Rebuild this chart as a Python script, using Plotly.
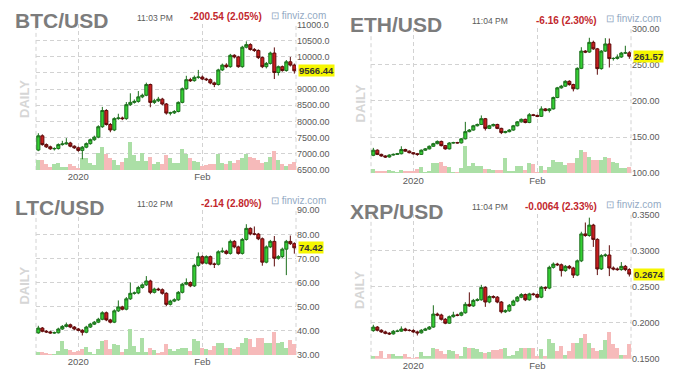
import plotly.graph_objects as go
import pandas as pd

W, H = 673, 385

# ---------------- data ----------------
dates = pd.date_range("2019-12-22", periods=65, freq="D")
x_tick_values = ["2020-01-01", "2020-02-01"]
x_tick_labels = ["2020", "Feb"]
x_window = ["2019-12-21 10:00", "2020-02-24 10:00"]

btc_open = [7113, 7555, 7283, 7213, 7153, 7160, 7283, 7303, 7333, 7233, 7183, 7103, 7203, 7313, 7434, 7514, 7836, 8338, 7906, 7735, 8087, 8107, 8087, 8519, 8589, 8619, 8760, 8810, 9142, 8589, 8640, 8690, 8539, 8258, 8265, 8308, 8589, 9011, 9292, 9262, 9363, 9373, 9312, 9292, 9192, 9142, 9594, 9744, 9694, 10046, 9996, 9694, 10297, 10377, 10227, 10196, 9975, 9694, 9795, 10116, 9513, 9694, 9574, 9845, 9744]
btc_high = [7635, 7600, 7320, 7250, 7200, 7320, 7400, 7484, 7370, 7260, 7220, 7240, 7350, 7470, 7560, 7880, 8450, 8380, 7950, 8130, 8238, 8150, 8600, 8870, 8680, 8940, 8860, 9200, 9170, 8700, 8760, 8730, 8570, 8300, 8350, 8620, 9050, 9413, 9350, 9420, 9594, 9420, 9350, 9330, 9230, 9630, 9790, 9800, 10090, 10080, 10030, 10340, 10478, 10420, 10270, 10230, 10010, 9840, 10160, 10290, 9730, 9730, 9900, 9996, 9790]
btc_low = [7080, 7250, 7180, 7120, 7100, 7130, 7250, 7280, 7200, 7150, 7060, 6831, 7170, 7280, 7400, 7480, 7800, 7870, 7665, 7700, 8050, 8040, 8050, 8480, 8550, 8580, 8720, 8780, 8438, 8540, 8600, 8500, 8210, 8187, 8230, 8280, 8560, 8980, 9220, 9230, 9320, 9280, 9250, 9150, 9061, 9110, 9560, 9650, 9660, 9950, 9660, 9660, 10260, 10190, 10150, 9930, 9650, 9640, 9760, 9312, 9420, 9540, 9540, 9700, 9480]
btc_close = [7555, 7283, 7213, 7153, 7160, 7283, 7303, 7333, 7233, 7183, 7103, 7203, 7313, 7434, 7514, 7836, 8338, 7906, 7735, 8087, 8107, 8087, 8519, 8589, 8619, 8760, 8810, 9142, 8589, 8640, 8690, 8539, 8258, 8265, 8308, 8589, 9011, 9292, 9262, 9363, 9373, 9312, 9292, 9192, 9142, 9594, 9744, 9694, 10046, 9996, 9694, 10297, 10377, 10227, 10196, 9975, 9694, 9795, 10116, 9513, 9694, 9574, 9845, 9744, 9566.44]
btc_volume = [30, 30, 18, 10, 18, 20, 8, 8, 18, 13, 5, 38, 38, 20, 15, 53, 71, 50, 38, 30, 16, 23, 36, 86, 46, 28, 53, 28, 40, 18, 25, 18, 46, 38, 20, 20, 65, 50, 38, 28, 23, 11, 15, 18, 18, 48, 20, 18, 26, 20, 30, 36, 48, 40, 38, 30, 20, 23, 40, 58, 30, 18, 13, 18, 25]

eth_open = [124.7, 131.8, 126.0, 123.8, 122.4, 125.1, 126.0, 126.9, 132.7, 130.5, 128.3, 126.9, 126.0, 131.8, 133.6, 137.2, 140.8, 143.9, 138.1, 133.6, 141.7, 142.2, 141.9, 147.5, 157.4, 159.6, 165.5, 167.3, 175.3, 161.9, 165.5, 167.3, 161.9, 156.1, 157.4, 159.6, 165.5, 170.9, 174.4, 170.0, 180.7, 179.8, 178.5, 188.8, 186.5, 188.8, 204.5, 217.9, 220.2, 226.9, 222.4, 216.6, 244.8, 268.6, 267.3, 280.7, 271.7, 244.4, 268.6, 278.5, 258.3, 258.5, 260.5, 265.9, 266.2]
eth_high = [135.0, 133.0, 127.0, 124.8, 126.2, 127.2, 128.0, 137.2, 133.8, 131.5, 129.3, 128.0, 132.8, 134.8, 138.3, 142.0, 145.3, 145.0, 139.0, 142.9, 143.4, 143.3, 148.6, 170.9, 161.0, 166.8, 168.6, 179.8, 176.3, 166.8, 168.5, 168.3, 162.8, 158.6, 160.9, 166.7, 172.1, 175.6, 175.3, 183.0, 181.9, 180.8, 192.4, 189.9, 190.0, 205.8, 219.2, 222.0, 228.4, 228.3, 223.6, 246.2, 274.0, 270.0, 287.0, 283.0, 273.0, 270.0, 286.5, 286.0, 260.0, 264.0, 267.5, 276.0, 268.5]
eth_low = [123.5, 125.0, 122.8, 121.2, 121.5, 124.3, 125.2, 126.0, 129.6, 127.4, 125.9, 124.0, 125.2, 130.9, 132.8, 136.4, 139.9, 137.0, 132.5, 132.8, 140.8, 140.9, 141.0, 146.6, 156.4, 158.8, 164.5, 166.5, 159.0, 160.9, 164.4, 160.8, 154.0, 155.0, 156.4, 158.6, 164.6, 169.9, 168.9, 169.1, 178.7, 177.4, 177.6, 185.4, 183.8, 187.9, 203.6, 216.7, 219.3, 220.9, 213.0, 215.6, 243.7, 265.8, 266.2, 270.3, 236.0, 243.0, 267.4, 246.0, 255.5, 257.0, 259.3, 264.6, 258.0]
eth_close = [131.8, 126.0, 123.8, 122.4, 125.1, 126.0, 126.9, 132.7, 130.5, 128.3, 126.9, 126.0, 131.8, 133.6, 137.2, 140.8, 143.9, 138.1, 133.6, 141.7, 142.2, 141.9, 147.5, 157.4, 159.6, 165.5, 167.3, 175.3, 161.9, 165.5, 167.3, 161.9, 156.1, 157.4, 159.6, 165.5, 170.9, 174.4, 170.0, 180.7, 179.8, 178.5, 188.8, 186.5, 188.8, 204.5, 217.9, 220.2, 226.9, 222.4, 216.6, 244.8, 268.6, 267.3, 280.7, 271.7, 244.4, 268.6, 278.5, 258.3, 258.5, 260.5, 265.9, 266.2, 261.57]
eth_volume = [13, 8, 6, 8, 10, 6, 3, 11, 6, 8, 6, 13, 18, 5, 8, 30, 30, 34, 23, 18, 5, 5, 16, 83, 23, 31, 23, 21, 13, 13, 11, 10, 10, 48, 6, 6, 21, 23, 11, 31, 28, 5, 21, 10, 20, 40, 35, 36, 25, 30, 30, 48, 70, 66, 50, 41, 41, 40, 50, 46, 33, 31, 15, 15, 20]

ltc_open = [39.15, 41.16, 39.82, 39.55, 39.15, 39.20, 40.76, 41.84, 42.51, 41.57, 40.76, 40.22, 39.41, 41.57, 42.78, 43.59, 44.80, 47.49, 44.53, 43.59, 48.29, 49.91, 48.97, 53.27, 55.56, 55.70, 57.98, 59.06, 60.67, 55.96, 57.31, 57.04, 55.56, 50.98, 52.33, 52.87, 55.96, 59.33, 60.00, 58.65, 67.13, 70.76, 68.07, 70.76, 67.67, 67.60, 72.78, 73.05, 72.11, 77.08, 74.80, 72.11, 77.89, 82.47, 80.18, 80.10, 78.16, 68.47, 74.80, 77.08, 70.09, 70.76, 73.86, 77.08, 76.14]
ltc_high = [42.1, 41.6, 40.3, 40.0, 39.7, 41.3, 42.4, 43.45, 43.0, 42.0, 41.2, 40.7, 42.1, 43.3, 44.1, 45.4, 48.1, 48.0, 45.0, 48.9, 52.6, 50.4, 54.0, 60.0, 56.3, 58.65, 59.7, 62.7, 61.2, 57.9, 57.9, 57.6, 56.0, 52.9, 53.5, 56.5, 59.9, 61.75, 60.5, 67.8, 72.5, 71.3, 71.3, 71.2, 68.3, 73.4, 74.5, 73.6, 77.8, 77.6, 75.3, 78.5, 84.2, 82.9, 83.27, 80.6, 78.7, 75.4, 77.7, 79.3, 71.4, 74.5, 77.7, 79.5, 76.7]
ltc_low = [38.8, 39.4, 39.1, 38.8, 38.8, 38.9, 40.4, 41.4, 41.1, 40.3, 39.8, 38.07, 39.0, 41.2, 42.4, 43.2, 44.4, 44.0, 43.1, 43.2, 47.8, 48.5, 48.5, 52.8, 55.0, 55.2, 57.5, 58.6, 55.2, 55.5, 56.5, 55.0, 50.2, 50.5, 51.9, 52.4, 55.5, 58.9, 58.1, 58.2, 66.6, 67.5, 67.6, 67.2, 66.05, 67.1, 72.3, 71.6, 71.6, 74.2, 71.6, 71.6, 77.4, 79.6, 79.6, 77.6, 67.0, 68.0, 74.3, 66.7, 69.5, 70.2, 63.1, 75.6, 72.0]
ltc_close = [41.16, 39.82, 39.55, 39.15, 39.20, 40.76, 41.84, 42.51, 41.57, 40.76, 40.22, 39.41, 41.57, 42.78, 43.59, 44.80, 47.49, 44.53, 43.59, 48.29, 49.91, 48.97, 53.27, 55.56, 55.70, 57.98, 59.06, 60.67, 55.96, 57.31, 57.04, 55.56, 50.98, 52.33, 52.87, 55.96, 59.33, 60.00, 58.65, 67.13, 70.76, 68.07, 70.76, 67.67, 67.60, 72.78, 73.05, 72.11, 77.08, 74.80, 72.11, 77.89, 82.47, 80.18, 80.10, 78.16, 68.47, 74.80, 77.08, 70.09, 70.76, 73.86, 77.08, 76.14, 74.42]
ltc_volume = [10, 8, 6, 3, 2, 13, 43, 18, 16, 8, 13, 18, 26, 10, 3, 18, 43, 46, 18, 33, 30, 8, 18, 81, 28, 10, 53, 10, 23, 16, 5, 10, 33, 18, 11, 18, 21, 23, 13, 48, 43, 21, 18, 16, 28, 36, 36, 21, 23, 18, 25, 38, 53, 48, 25, 53, 53, 36, 38, 70, 38, 40, 21, 46, 33]

xrp_open = [0.1891, 0.1940, 0.1896, 0.1873, 0.1855, 0.1846, 0.1882, 0.1884, 0.1913, 0.1896, 0.1893, 0.1873, 0.1860, 0.1896, 0.1913, 0.1940, 0.2120, 0.2107, 0.2048, 0.1994, 0.2084, 0.2107, 0.2104, 0.2138, 0.2255, 0.2233, 0.2309, 0.2318, 0.2489, 0.2287, 0.2363, 0.2354, 0.2287, 0.2152, 0.2165, 0.2242, 0.2300, 0.2354, 0.2390, 0.2318, 0.2399, 0.2390, 0.2354, 0.2489, 0.2480, 0.2767, 0.2812, 0.2803, 0.2722, 0.2781, 0.2758, 0.2660, 0.2857, 0.3230, 0.3208, 0.3352, 0.3154, 0.2745, 0.2929, 0.2938, 0.2758, 0.2745, 0.2736, 0.2781, 0.2736]
xrp_high = [0.1972, 0.1955, 0.1910, 0.1890, 0.1870, 0.1900, 0.1905, 0.1950, 0.1930, 0.1912, 0.1910, 0.1890, 0.1912, 0.1930, 0.1955, 0.2242, 0.2140, 0.2125, 0.2065, 0.2100, 0.2152, 0.2125, 0.2155, 0.2285, 0.2421, 0.2330, 0.2340, 0.2525, 0.2505, 0.2380, 0.2380, 0.2370, 0.2300, 0.2185, 0.2260, 0.2320, 0.2370, 0.2410, 0.2405, 0.2415, 0.2415, 0.2405, 0.2510, 0.2505, 0.2790, 0.2835, 0.2830, 0.2820, 0.2800, 0.2800, 0.2775, 0.2875, 0.3260, 0.3388, 0.3455, 0.3370, 0.3170, 0.2950, 0.2960, 0.3073, 0.2780, 0.2765, 0.2840, 0.2800, 0.2755]
xrp_low = [0.1875, 0.1880, 0.1860, 0.1840, 0.1830, 0.1835, 0.1870, 0.1875, 0.1880, 0.1880, 0.1860, 0.1824, 0.1850, 0.1885, 0.1900, 0.1930, 0.2090, 0.2030, 0.1980, 0.1985, 0.2070, 0.2090, 0.2090, 0.2125, 0.2220, 0.2220, 0.2295, 0.2305, 0.2220, 0.2270, 0.2335, 0.2270, 0.2130, 0.2135, 0.2150, 0.2230, 0.2285, 0.2340, 0.2300, 0.2305, 0.2375, 0.2340, 0.2340, 0.2440, 0.2465, 0.2750, 0.2785, 0.2640, 0.2705, 0.2740, 0.2620, 0.2645, 0.2840, 0.3190, 0.3190, 0.3050, 0.2660, 0.2730, 0.2910, 0.2646, 0.2725, 0.2720, 0.2720, 0.2715, 0.2640]
xrp_close = [0.1940, 0.1896, 0.1873, 0.1855, 0.1846, 0.1882, 0.1884, 0.1913, 0.1896, 0.1893, 0.1873, 0.1860, 0.1896, 0.1913, 0.1940, 0.2120, 0.2107, 0.2048, 0.1994, 0.2084, 0.2107, 0.2104, 0.2138, 0.2255, 0.2233, 0.2309, 0.2318, 0.2489, 0.2287, 0.2363, 0.2354, 0.2287, 0.2152, 0.2165, 0.2242, 0.2300, 0.2354, 0.2390, 0.2318, 0.2399, 0.2390, 0.2354, 0.2489, 0.2480, 0.2767, 0.2812, 0.2803, 0.2722, 0.2781, 0.2758, 0.2660, 0.2857, 0.3230, 0.3208, 0.3352, 0.3154, 0.2745, 0.2929, 0.2938, 0.2758, 0.2745, 0.2736, 0.2781, 0.2736, 0.2674]
xrp_volume = [8, 10, 25, 2, 15, 15, 8, 8, 15, 5, 2, 5, 22, 8, 8, 35, 30, 23, 15, 28, 25, 15, 10, 38, 32, 33, 30, 20, 17, 20, 28, 28, 30, 33, 8, 12, 25, 33, 35, 35, 33, 8, 30, 8, 62, 50, 25, 40, 12, 25, 50, 50, 65, 78, 48, 35, 25, 28, 58, 83, 45, 35, 12, 12, 45]

btc_ticks = [6500, 7000, 7500, 8000, 8500, 9000, 9500, 10000, 10500, 11000]
btc_tick_labels = ["6500.00", "7000.00", "7500.00", "8000.00", "8500.00", "9000.00", "", "10000.0", "10500.0", "11000.0"]
eth_ticks = [100, 150, 200, 250, 300]
eth_tick_labels = ["100.00", "150.00", "200.00", "250.00", "300.00"]
ltc_ticks = [30, 40, 50, 60, 70, 80, 90]
ltc_tick_labels = ["30.00", "40.00", "50.00", "60.00", "70.00", "80.00", "90.00"]
xrp_ticks = [0.15, 0.20, 0.25, 0.30, 0.35]
xrp_tick_labels = ["0.1500", "0.2000", "0.2500", "0.3000", "0.3500"]

titles = ["BTC/USD", "ETH/USD", "LTC/USD", "XRP/USD"]
times = ["11:03 PM", "11:04 PM", "11:02 PM", "11:04 PM"]
changes = ["-200.54 (2.05%)", "-6.16 (2.30%)", "-2.14 (2.80%)", "-0.0064 (2.33%)"]
last_labels = ["9566.44", "261.57", "74.42", "0.2674"]

# ---------------- styling / layout ----------------
SANS = "Liberation Sans, Arial, sans-serif"
GRID = "#d2d2d2"
DASH = "4px,3px"
INC_FILL, INC_LINE = "#34d034", "#1b6e1b"
DEC_FILL, DEC_LINE = "#c81e1e", "#5e0a0a"
VOL_UP, VOL_DN = "#abdfa6", "#f6baba"
LABEL = "#5a5a5a"

panels = [
    dict(o=btc_open, h=btc_high, l=btc_low, c=btc_close, v=btc_volume, yr=[6500, 11000],
         tv=btc_ticks, tt=btc_tick_labels, px=(36, 296), py=(20, 169.3), vmax=448,
         ty=15.8, tmy=13.2, cy=11.8, ly=11.2, daily=(25, 96.5), dx=0),
    dict(o=eth_open, h=eth_high, l=eth_low, c=eth_close, v=eth_volume, yr=[100, 300],
         tv=eth_ticks, tt=eth_tick_labels, px=(371, 631), py=(24, 172.7), vmax=446,
         ty=20.3, tmy=16.7, cy=15.5, ly=14.2, daily=(360, 101), dx=335),
    dict(o=ltc_open, h=ltc_high, l=ltc_low, c=ltc_close, v=ltc_volume, yr=[30, 90],
         tv=ltc_ticks, tt=ltc_tick_labels, px=(36, 296), py=(210.7, 359.3), vmax=446,
         ty=207.5, tmy=204.5, cy=203.7, ly=200.8, daily=(25, 288), dx=0),
    dict(o=xrp_open, h=xrp_high, l=xrp_low, c=xrp_close, v=xrp_volume, yr=[0.15, 0.35],
         tv=xrp_ticks, tt=xrp_tick_labels, px=(371, 631), py=(215, 363.3), vmax=445,
         ty=211.7, tmy=207.8, cy=206.7, ly=204.6, daily=(360, 292.5), dx=335),
]


def px2x(p):
    return p / W


def px2y(p):
    return 1 - p / H


def suffix(n):
    return "" if n == 1 else str(n)


fig = go.Figure()
layout = dict(
    width=W, height=H, margin=dict(l=0, r=0, t=0, b=0),
    paper_bgcolor="white", plot_bgcolor="white", showlegend=False,
    bargap=0, boxgap=0.15, boxgroupgap=0.1, annotations=[], shapes=[],
)

for k, p in enumerate(panels, start=1):
    vy = "y" + suffix(k)          # volume axis (base)
    py_ = "y" + suffix(k + 4)     # price axis (overlay)
    xa = "x" + suffix(k)
    vol_colors = [VOL_UP if c >= o else VOL_DN for o, c in zip(p["o"], p["c"])]
    fig.add_trace(go.Bar(x=dates, y=p["v"], xaxis=xa, yaxis=vy,
                         marker=dict(color=vol_colors, line=dict(width=0)),
                         hoverinfo="skip"))
    fig.add_trace(go.Candlestick(
        x=dates, open=p["o"], high=p["h"], low=p["l"], close=p["c"],
        xaxis=xa, yaxis=py_, whiskerwidth=0,
        increasing=dict(fillcolor=INC_FILL, line=dict(color=INC_LINE, width=1)),
        decreasing=dict(fillcolor=DEC_FILL, line=dict(color=DEC_LINE, width=1)),
    ))
    xdom = [px2x(p["px"][0]), px2x(p["px"][1])]
    ydom = [px2y(p["py"][1]), px2y(p["py"][0])]
    layout["xaxis" + suffix(k)] = dict(
        domain=xdom, anchor=vy, type="date", range=x_window,
        tickmode="array", tickvals=x_tick_values, ticktext=x_tick_labels,
        showgrid=True, gridcolor=GRID, griddash=DASH, gridwidth=1,
        zeroline=False, showline=False, ticks="",
        tickfont=dict(family=SANS, size=9.5, color=LABEL),
        rangeslider=dict(visible=False), fixedrange=True,
    )
    layout["yaxis" + suffix(k)] = dict(
        domain=ydom, anchor=xa, range=[0, p["vmax"]], visible=False,
        showgrid=False, zeroline=False, fixedrange=True,
    )
    layout["yaxis" + suffix(k + 4)] = dict(
        overlaying=vy, anchor=xa, side="right", range=p["yr"],
        tickmode="array", tickvals=p["tv"], ticktext=p["tt"],
        showgrid=True, gridcolor=GRID, griddash=DASH, gridwidth=1,
        zeroline=False, showline=False, ticks="",
        tickfont=dict(family=SANS, size=9, color=LABEL), fixedrange=True,
    )
    # dashed frame lines at the left and right edges of each plot
    for xe in (0, 1):
        layout["shapes"].append(dict(
            type="line", xref=f"{xa} domain", yref=f"{vy} domain",
            x0=xe, x1=xe, y0=0, y1=1, layer="below",
            line=dict(color=GRID, width=1, dash=DASH)))

    dx = p["dx"]
    ann = layout["annotations"]
    ann.append(dict(text=titles[k - 1], xref="paper", yref="paper",
                    x=px2x(12.7 + dx), y=px2y(p["ty"]), xanchor="left", yanchor="middle",
                    showarrow=False,
                    font=dict(family=SANS, size=21, color="#7c7c7c", weight=700)))
    ann.append(dict(text=times[k - 1], xref="paper", yref="paper",
                    x=px2x(155.3 + dx), y=px2y(p["tmy"]), xanchor="center", yanchor="middle",
                    showarrow=False, font=dict(family=SANS, size=8.5, color=LABEL)))
    ann.append(dict(text=changes[k - 1], xref="paper", yref="paper",
                    x=px2x(264.3 + dx), y=px2y(p["cy"]), xanchor="right", yanchor="middle",
                    showarrow=False,
                    font=dict(family=SANS, size=10, color="#c2272d", weight=700)))
    ann.append(dict(text="\u22a1 finviz.com", xref="paper", yref="paper",
                    x=px2x(268.5 + dx), y=px2y(p["ly"]), xanchor="left", yanchor="middle",
                    showarrow=False, font=dict(family=SANS, size=10, color="#94aac4")))
    ann.append(dict(text="DAILY", xref="paper", yref="paper", textangle=-90,
                    x=px2x(p["daily"][0]), y=px2y(p["daily"][1]),
                    xanchor="center", yanchor="middle", showarrow=False,
                    font=dict(family=SANS, size=13, color="#d6d6d6", weight=700)))
    ann.append(dict(text=last_labels[k - 1], xref=f"{xa} domain", yref=py_,
                    x=1, y=p["c"][-1], xanchor="left", yanchor="middle", xshift=2,
                    showarrow=False, bgcolor="#f6f600", borderpad=0,
                    font=dict(family=SANS, size=9.5, color="#333333", weight=700)))

fig.update_layout(**layout)
fig.write_html(
    "out.html",
    config={"displayModeBar": False, "staticPlot": True},
    post_script="document.documentElement.style.margin='0';document.body.style.margin='0';"
                "document.body.style.overflow='hidden';",
)
